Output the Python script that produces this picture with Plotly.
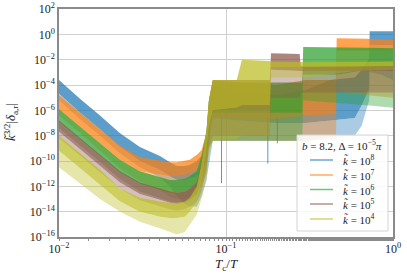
import numpy as np
import plotly.graph_objects as go

# Envelopes (log10 of the plotted quantity).
# Each series: x positions (Tc/T), top of dense band, bottom of dense band, floor of spikes.
labels = ["10<sup>8</sup>", "10<sup>7</sup>", "10<sup>6</sup>", "10<sup>5</sup>", "10<sup>4</sup>"]
colors = [(31, 119, 180), (255, 127, 14), (44, 160, 44), (140, 86, 75), (188, 189, 34)]
y_tick_exp = [2, 0, -2, -4, -6, -8, -10, -12, -14, -16]
x_tick_exp = [-2, -1, 0]

x_k8 = [0.01, 0.0134, 0.0176, 0.0232, 0.0305, 0.0402, 0.0461, 0.0508, 0.0567, 0.0607, 0.0669, 0.0713, 0.0764, 0.0805, 0.0834, 0.12, 0.2, 0.3, 0.42, 0.59, 0.65, 0.695, 0.72, 0.725, 0.85, 1.0]
top_k8 = [-3.6, -5.1, -6.4, -7.8, -8.9, -9.6, -10.1, -10.4, -10.4, -10.3, -10.0, -9.6, -8.5, -5.5, -4.0, -4.6, -4.8, -4.4, -3.6, -3.4, -2.8, -2.2, -2.0, 0.25, 0.25, 0.25]
bot_k8 = [-4.7, -6.2, -7.5, -8.9, -10.0, -10.7, -11.2, -11.5, -11.5, -11.4, -11.2, -10.8, -10.0, -7.8, -6.6, -6.8, -7.0, -7.0, -6.8, -6.6, -5.6, -4.8, -4.3, -0.85, -0.85, -0.85]
flr_k8 = [-5.2, -6.7, -8.0, -9.4, -10.5, -11.3, -12.0, -12.8, -13.4, -13.6, -13.6, -12.8, -11.5, -9.5, -8.4, -8.4, -8.4, -8.4, -8.1, -8.0, -7.2, -6.0, -5.2, -3.0, -3.2, -3.6]
# a few isolated deep spikes of the k=1e8 curve (x, lowest log10 value)
spike_x_k8 = [0.094, 0.178, 0.203]
spike_lo_k8 = [-11.75, -10.2, -8.6]

x_k7 = [0.01, 0.0134, 0.0176, 0.0232, 0.0305, 0.0402, 0.0461, 0.0508, 0.0567, 0.0607, 0.0669, 0.0713, 0.0764, 0.0795, 0.0834, 0.12, 0.2, 0.3, 0.455, 0.46, 0.7, 1.0]
top_k7 = [-4.8, -6.2, -7.5, -8.8, -9.7, -10.0, -10.1, -10.1, -10.0, -9.9, -9.5, -9.15, -7.8, -5.0, -3.6, -3.8, -4.0, -3.6, -3.6, -0.3, -0.35, -0.45]
bot_k7 = [-5.9, -7.3, -8.6, -9.9, -10.8, -11.1, -11.2, -11.2, -11.1, -11.0, -10.7, -10.5, -9.5, -7.5, -6.6, -6.6, -6.7, -6.4, -6.3, -1.3, -1.3, -1.3]
flr_k7 = [-6.4, -7.8, -9.2, -10.6, -11.6, -12.3, -12.8, -13.0, -13.0, -12.8, -12.4, -12.0, -11.0, -9.0, -8.4, -8.4, -8.4, -8.4, -8.3, -4.5, -4.8, -5.0]

x_k6 = [0.01, 0.0134, 0.0176, 0.0232, 0.0305, 0.0402, 0.0461, 0.0508, 0.0567, 0.0607, 0.0669, 0.0713, 0.0764, 0.0789, 0.0834, 0.12, 0.2, 0.286, 0.29, 0.46, 0.7, 1.0]
top_k6 = [-5.9, -7.3, -8.6, -9.9, -10.8, -11.3, -11.5, -11.5, -11.4, -11.2, -10.8, -9.6, -7.6, -5.3, -3.7, -3.8, -3.8, -3.8, -1.0, -1.0, -1.05, -1.1]
bot_k6 = [-6.9, -8.3, -9.6, -10.9, -11.8, -12.3, -12.5, -12.5, -12.4, -12.2, -11.8, -10.8, -9.3, -7.5, -6.2, -6.2, -6.2, -6.2, -3.2, -3.2, -2.8, -2.8]
flr_k6 = [-7.4, -8.8, -10.1, -11.4, -12.4, -12.9, -13.2, -13.3, -13.2, -13.0, -12.6, -11.8, -10.5, -9.0, -8.4, -8.4, -8.4, -8.4, -5.2, -5.4, -5.6, -5.8]

x_k5 = [0.01, 0.0134, 0.0176, 0.0232, 0.0305, 0.0402, 0.0461, 0.0508, 0.0567, 0.0607, 0.0669, 0.0713, 0.0764, 0.0789, 0.0834, 0.12, 0.183, 0.186, 0.276, 0.28, 0.5, 1.0]
top_k5 = [-6.8, -8.2, -9.5, -10.8, -11.7, -12.2, -12.4, -12.5, -12.4, -12.2, -11.7, -10.2, -7.8, -5.3, -3.6, -3.6, -3.6, -1.5, -1.55, -2.5, -2.5, -2.5]
bot_k5 = [-7.7, -9.1, -10.4, -11.7, -12.6, -13.1, -13.3, -13.4, -13.3, -13.1, -12.6, -11.4, -9.4, -7.4, -6.0, -6.0, -6.0, -2.8, -2.9, -2.9, -2.9, -2.9]
flr_k5 = [-8.2, -9.6, -10.9, -12.2, -13.1, -13.6, -13.8, -13.9, -13.8, -13.6, -13.2, -12.4, -10.8, -9.0, -8.0, -8.0, -8.0, -5.0, -5.0, -4.6, -4.6, -4.6]

x_k4 = [0.01, 0.0134, 0.0176, 0.0232, 0.0305, 0.0402, 0.0461, 0.0508, 0.0567, 0.0607, 0.0669, 0.0713, 0.0764, 0.0789, 0.0834, 0.116, 0.1245, 0.183, 0.186, 0.3, 0.6, 1.0]
top_k4 = [-8.0, -9.4, -10.7, -12.2, -12.9, -13.2, -13.3, -13.3, -13.2, -12.9, -12.0, -10.2, -7.6, -5.2, -3.6, -3.6, -2.0, -2.1, -2.15, -2.2, -2.15, -2.15]
bot_k4 = [-9.2, -10.6, -11.9, -13.2, -14.0, -14.4, -14.5, -14.5, -14.4, -14.0, -13.2, -11.6, -9.3, -7.4, -6.0, -5.8, -5.6, -5.6, -2.6, -2.6, -2.55, -2.5]
flr_k4 = [-10.5, -11.8, -13.0, -14.0, -14.8, -15.3, -15.6, -15.8, -15.6, -15.0, -14.2, -13.0, -11.5, -9.5, -8.4, -8.2, -8.0, -8.0, -3.4, -3.4, -2.9, -2.8]

series = [
    (x_k8, top_k8, bot_k8, flr_k8),
    (x_k7, top_k7, bot_k7, flr_k7),
    (x_k6, top_k6, bot_k6, flr_k6),
    (x_k5, top_k5, bot_k5, flr_k5),
    (x_k4, top_k4, bot_k4, flr_k4),
]

fig = go.Figure()
for i, ((xs, top, bot, flr), (r, g, b)) in enumerate(zip(series, colors)):
    ytop = np.power(10.0, top)
    ybot = np.power(10.0, bot)
    yflr = np.power(10.0, flr)
    fig.add_trace(go.Scatter(x=xs, y=yflr, mode="lines", line=dict(width=0),
                             showlegend=False, hoverinfo="skip"))
    fig.add_trace(go.Scatter(x=xs, y=ybot, mode="lines", line=dict(width=0),
                             fill="tonexty", fillcolor=f"rgba({r},{g},{b},0.38)",
                             showlegend=False, hoverinfo="skip"))
    fig.add_trace(go.Scatter(x=xs, y=ytop, mode="lines", line=dict(width=0),
                             fill="tonexty", fillcolor=f"rgba({r},{g},{b},0.72)",
                             showlegend=False, hoverinfo="skip"))
    if i == 0:
        sx, sy = [], []
        for xv, lo in zip(spike_x_k8, spike_lo_k8):
            sx += [xv, xv, None]
            sy += [10.0 ** -6.5, 10.0 ** lo, None]
        fig.add_trace(go.Scatter(x=sx, y=sy, mode="lines",
                                 line=dict(width=1, color=f"rgba({r},{g},{b},0.75)"),
                                 showlegend=False, hoverinfo="skip"))

FONT = "Liberation Serif"
TXT = "#222"

def sup_label(e):
    s = str(e).replace("-", "\u2212")
    return f"10<sup>{s}</sup>"

axis_common = dict(
    showline=True, linecolor="#8a8a8a", linewidth=1.5, mirror=True,
    showgrid=True, gridcolor="#d0d0d0", gridwidth=1, automargin=False,
    zeroline=False, ticks="",
    tickfont=dict(family=FONT, size=12, color=TXT),
)

fig.update_xaxes(type="log", range=[-2, 0],
                 tickvals=[10.0 ** e for e in x_tick_exp],
                 ticktext=[sup_label(e) for e in x_tick_exp],
                 minor=dict(ticks="outside", ticklen=2, tickcolor="#8a8a8a", showgrid=False),
                 **axis_common)
fig.update_yaxes(type="log", range=[-16, 2],
                 tickvals=[10.0 ** e for e in y_tick_exp],
                 ticktext=[sup_label(e) for e in y_tick_exp],
                 **axis_common)

# plot area in page pixels: x 59..393, y 9..237
def px(x):
    return (x - 59) / 334.0

def py(y):
    return (237 - y) / 228.0

shapes = [dict(type="rect", xref="paper", yref="paper",
               x0=px(297), x1=px(388), y0=py(231), y1=py(135),
               line=dict(color="#d4d4d4", width=1), fillcolor="rgba(255,255,255,0.85)",
               layer="above")]
annotations = [
    dict(xref="paper", yref="paper", x=px(342), y=py(145),
         text="<i>b</i> = 8.2, Δ = 10<sup>\u22125</sup><i>π</i>", showarrow=False,
         font=dict(family=FONT, size=11, color=TXT), xanchor="center", yanchor="middle"),
    dict(xref="paper", yref="paper", x=px(226), y=py(264),
         text="<i>T</i><sub>c</sub>/<i>T</i>", showarrow=False,
         font=dict(family=FONT, size=13, color=TXT), xanchor="center", yanchor="middle"),
    dict(xref="paper", yref="paper", x=px(11), y=py(122), textangle=-90,
         text="<i>k\u0303</i><sup>3/2</sup>|<i>δ</i><sub>a,r</sub>|", showarrow=False,
         font=dict(family=FONT, size=13, color=TXT), xanchor="center", yanchor="middle"),
]
entry_py = [160, 175, 189.5, 204, 219]
for lab, (r, g, b), ey in zip(labels, colors, entry_py):
    shapes.append(dict(type="line", xref="paper", yref="paper",
                       x0=px(310), x1=px(333), y0=py(ey), y1=py(ey),
                       line=dict(color=f"rgba({r},{g},{b},0.65)", width=1.5), layer="above"))
    annotations.append(dict(xref="paper", yref="paper", x=px(341), y=py(ey),
                            text=f"<i>k\u0303</i> = {lab}", showarrow=False,
                            font=dict(family=FONT, size=11, color=TXT),
                            xanchor="left", yanchor="middle"))

fig.update_layout(
    width=407, height=275,
    margin=dict(l=59, r=14, t=9, b=38),
    paper_bgcolor="white", plot_bgcolor="white",
    showlegend=False,
    shapes=shapes, annotations=annotations,
)

fig.write_html("out.html", config={"displayModeBar": False},
               post_script="document.body.style.margin='0px';document.body.style.padding='0px';")
